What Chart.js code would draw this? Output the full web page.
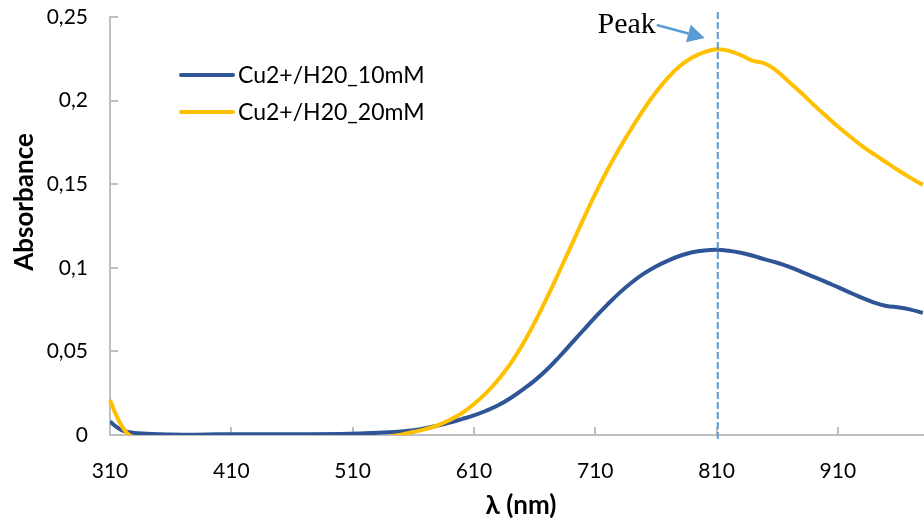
<!DOCTYPE html>
<html>
<head>
<meta charset="utf-8">
<script src="https://cdn.jsdelivr.net/npm/chart.js@4.4.1/dist/chart.umd.min.js"></script>
<style>
  html, body { margin: 0; padding: 0; background: #ffffff; }
  #wrap { width: 924px; height: 522px; position: relative; }
</style>
</head>
<body>
<div id="wrap"><canvas id="c" width="924" height="522"></canvas></div>
<script>
// Absorption spectra of Cu2+ in water at two concentrations
const wavelengths = [310, 315, 320, 325, 330, 340, 350, 360, 380, 400, 450, 500, 520, 540,
  550, 560, 570, 580, 590, 600, 610, 620, 630, 640, 650, 660, 670, 680, 690, 700,
  710, 720, 730, 740, 750, 760, 770, 780, 790, 800, 810, 820, 830, 840, 850, 860,
  870, 880, 890, 900, 910, 920, 930, 940, 950, 960, 970, 980];

const abs10mM = [0.008, 0.005, 0.0028, 0.0018, 0.0012, 0.0008, 0.0005, 0.0003, 0.0002, 0.0004, 0.0004, 0.0006, 0.0010, 0.0016,
  0.0021, 0.0028, 0.0040, 0.0056, 0.0074, 0.0095, 0.0117, 0.0145, 0.0178, 0.0220, 0.0270, 0.0325, 0.0390, 0.0465, 0.0545, 0.0625,
  0.0705, 0.0780, 0.0850, 0.0912, 0.0965, 0.1008, 0.1043, 0.1072, 0.1093, 0.1104, 0.1108, 0.1102, 0.1090, 0.1072, 0.1050, 0.1030,
  0.1005, 0.0976, 0.0946, 0.0916, 0.0884, 0.0852, 0.0820, 0.0792, 0.0772, 0.0763, 0.0750, 0.0730];

const abs20mM = [0.021, 0.012, 0.005, 0.0005, -0.0012, -0.0015, -0.0015, -0.0015, -0.0015, -0.0015, -0.0015, -0.0015, -0.0015, -0.001,
  0.0002, 0.0018, 0.0035, 0.0058, 0.0090, 0.0130, 0.0185, 0.0250, 0.0330, 0.0425, 0.0540, 0.0672, 0.0818, 0.0972, 0.1130, 0.1288,
  0.1442, 0.1585, 0.1715, 0.1835, 0.1948, 0.2050, 0.2138, 0.2208, 0.2258, 0.2290, 0.2307, 0.2298, 0.2272, 0.2238, 0.2222, 0.2175,
  0.2110, 0.2045, 0.1975, 0.1910, 0.1845, 0.1785, 0.1728, 0.1678, 0.1630, 0.1582, 0.1538, 0.1495];

const seriesNames = ['Cu2+/H20_10mM', 'Cu2+/H20_20mM'];
const xTicks = [310, 410, 510, 610, 710, 810, 910];
const yTicks = [0, 0.05, 0.1, 0.15, 0.2, 0.25];
const yTickLabels = ['0', '0,05', '0,1', '0,15', '0,2', '0,25'];
const peakNm = 811;
const peakLabel = 'Peak';
const xTitle = 'λ (nm)';
const yTitle = 'Absorbance';

const BLUE = '#2F5597';
const GOLD = '#FFC000';
const ACCENT = '#5B9BD5';
const AXIS = '#BFBFBF';
const FONT = 'Lato, "Liberation Sans", sans-serif';

const toPoints = (vals) => wavelengths.map((w, i) => ({ x: w, y: vals[i] }));

const overlay = {
  id: 'overlay',
  beforeDatasetsDraw(chart) {
    const { ctx, scales: { x, y }, chartArea: a } = chart;
    ctx.save();
    ctx.strokeStyle = AXIS;
    ctx.lineWidth = 2;
    // inward tick marks
    x.ticks.forEach(t => {
      const px = Math.round(x.getPixelForValue(t.value));
      ctx.beginPath(); ctx.moveTo(px, a.bottom); ctx.lineTo(px, a.bottom - 8); ctx.stroke();
    });
    y.ticks.forEach(t => {
      const py = Math.round(y.getPixelForValue(t.value));
      ctx.beginPath(); ctx.moveTo(a.left, py); ctx.lineTo(a.left + 8, py); ctx.stroke();
    });
    ctx.restore();
  },
  afterDatasetsDraw(chart) {
    const { ctx, scales: { x }, chartArea: a } = chart;
    const px = x.getPixelForValue(peakNm);
    ctx.save();

    // dashed marker through the maximum
    ctx.strokeStyle = ACCENT;
    ctx.lineWidth = 2;
    ctx.setLineDash([7, 3]);
    ctx.beginPath();
    ctx.moveTo(px, a.top - 5);
    ctx.lineTo(px, a.bottom + 7);
    ctx.stroke();
    ctx.setLineDash([]);

    // "Peak" label with arrow
    ctx.fillStyle = '#000';
    ctx.font = '30px "Liberation Serif", "Times New Roman", serif';
    ctx.textAlign = 'right';
    ctx.textBaseline = 'alphabetic';
    ctx.fillText(peakLabel, px - 62, a.top + 16);

    const sx = px - 61, sy = a.top + 8;
    const tx = px - 13, ty = a.top + 21;
    const ang = Math.atan2(ty - sy, tx - sx);
    const headLen = 17, headW = 9;
    const bx = tx - headLen * Math.cos(ang), by = ty - headLen * Math.sin(ang);
    ctx.strokeStyle = ACCENT;
    ctx.fillStyle = ACCENT;
    ctx.lineWidth = 2.5;
    ctx.beginPath(); ctx.moveTo(sx, sy); ctx.lineTo(bx, by); ctx.stroke();
    ctx.beginPath();
    ctx.moveTo(tx, ty);
    ctx.lineTo(bx + headW * Math.sin(ang), by - headW * Math.cos(ang));
    ctx.lineTo(bx - headW * Math.sin(ang), by + headW * Math.cos(ang));
    ctx.closePath(); ctx.fill();

    // legend
    ctx.lineCap = 'round';
    ctx.lineWidth = 4;
    ctx.font = '23px ' + FONT;
    ctx.textAlign = 'left';
    ctx.textBaseline = 'middle';
    chart.data.datasets.forEach((ds, i) => {
      const ly = a.top + 58 + i * 37;
      const lx = a.left + 71;
      ctx.strokeStyle = ds.borderColor;
      ctx.beginPath(); ctx.moveTo(lx, ly); ctx.lineTo(lx + 52, ly); ctx.stroke();
      ctx.fillStyle = '#000';
      ctx.fillText(ds.label, lx + 57, ly + 1);
    });

    // axis titles
    ctx.fillStyle = '#000';
    ctx.font = 'bold 26px ' + FONT;
    ctx.textAlign = 'center';
    ctx.textBaseline = 'middle';
    ctx.fillText(xTitle, (a.left + a.right) / 2 + 4, a.bottom + 71);
    ctx.translate(25, a.top + 185);
    ctx.rotate(-Math.PI / 2);
    ctx.fillText(yTitle, 0, 0);
    ctx.restore();
  }
};

new Chart(document.getElementById('c'), {
  type: 'line',
  data: {
    datasets: [
      {
        label: seriesNames[0], data: toPoints(abs10mM), borderColor: BLUE, borderWidth: 4,
        pointRadius: 0, tension: 0.4, fill: false, order: 1
      },
      {
        label: seriesNames[1], data: toPoints(abs20mM), borderColor: GOLD, borderWidth: 4,
        pointRadius: 0, tension: 0.4, fill: false, order: 0,
        clip: { left: 2, top: 2, right: 0, bottom: 0 }
      }
    ]
  },
  options: {
    responsive: false,
    animation: false,
    devicePixelRatio: 1,
    layout: { padding: { top: 17, right: 0, bottom: 0, left: 0 } },
    plugins: { legend: { display: false }, tooltip: { enabled: false } },
    scales: {
      x: {
        type: 'linear', min: 310, max: 981,
        afterBuildTicks: s => { s.ticks = xTicks.map(v => ({ value: v })); },
        afterFit: s => { s.height = 87; s.paddingLeft = 0; s.paddingRight = 0; },
        grid: { display: false, drawTicks: false },
        border: { display: true, color: AXIS, width: 2 },
        ticks: {
          autoSkip: false, maxRotation: 0, padding: 24, color: '#000',
          font: { family: FONT, size: 21 },
          callback: v => String(v)
        }
      },
      y: {
        type: 'linear', min: 0, max: 0.25,
        afterBuildTicks: s => { s.ticks = yTicks.map(v => ({ value: v })); },
        afterFit: s => { s.width = 110; s.paddingTop = 0; s.paddingBottom = 0; },
        grid: { display: false, drawTicks: false },
        border: { display: true, color: AXIS, width: 2 },
        ticks: {
          padding: 22, color: '#000',
          font: { family: FONT, size: 21 },
          callback: (v, i) => yTickLabels[i]
        }
      }
    }
  },
  plugins: [overlay]
});
</script>
</body>
</html>
